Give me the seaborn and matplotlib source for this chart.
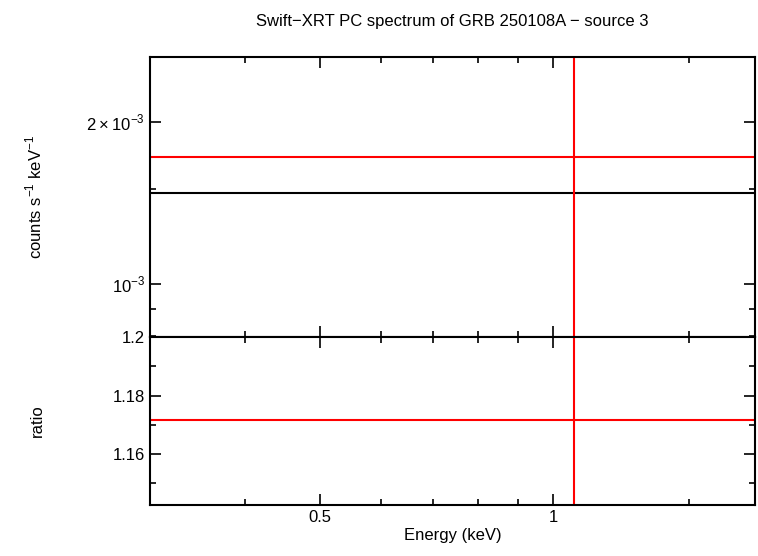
import matplotlib
matplotlib.use("Agg")
import matplotlib.pyplot as plt
import seaborn as sns
import pandas as pd
from matplotlib.ticker import FixedLocator, NullFormatter, FixedFormatter

plt.rcParams["font.family"] = "Liberation Sans"
plt.rcParams["mathtext.fontset"] = "custom"
plt.rcParams["mathtext.rm"] = "Liberation Sans"

title = "Swift\u2212XRT PC spectrum of GRB 250108A \u2212 source 3"
x_span = [0.3015, 1.824]
model_level = [1.475e-3, 1.475e-3]
data_level = [1.72e-3, 1.72e-3]
ratio_level = [1.1715, 1.1715]
vline_energy = 1.064

fig = plt.figure(figsize=(7.58, 5.56), dpi=100)
ax1 = fig.add_axes([0.1979, 0.3939, 0.798, 0.5036])
ax2 = fig.add_axes([0.1979, 0.0917, 0.798, 0.3022], sharex=ax1)

sns.lineplot(x=x_span, y=model_level, ax=ax1, color="black", lw=1.5)
sns.lineplot(x=x_span, y=data_level, ax=ax1, color="red", lw=1.5)
ax1.axvline(vline_energy, color="red", lw=1.5)
sns.lineplot(x=x_span, y=ratio_level, ax=ax2, color="red", lw=1.5)
ax2.axvline(vline_energy, color="red", lw=1.5)

for ax in (ax1, ax2):
    ax.set_xscale("log")
    ax.set_xlim(*x_span)
    ax.tick_params(which="both", direction="in", top=True, right=True, labelsize=12)
    ax.tick_params(which="major", length=8, width=1.2)
    ax.tick_params(which="minor", length=4, width=1.2)
    for s in ax.spines.values():
        s.set_linewidth(1.5)

ax1.set_yscale("log")
ax1.set_ylim(7.97e-4, 2.64e-3)
ax1.yaxis.set_major_locator(FixedLocator([1e-3, 2e-3]))
ax1.yaxis.set_major_formatter(FixedFormatter([r"$10^{-3}$", r"$2\times10^{-3}$"]))
ax1.yaxis.set_minor_locator(FixedLocator([8e-4, 9e-4, 1.5e-3]))
ax1.yaxis.set_minor_formatter(NullFormatter())
ax1.set_ylabel(r"counts s$^{-1}$ keV$^{-1}$", fontsize=12)
ax1.yaxis.set_label_coords(-0.174, 0.5)
ax1.set_title(title, fontsize=12, pad=22)
plt.setp(ax1.get_xticklabels(), visible=False)

ax2.set_ylim(1.1426, 1.2)
ax2.set_yticks([1.16, 1.18, 1.2])
ax2.set_yticklabels(["1.16", "1.18", "1.2"])
ax2.yaxis.set_minor_locator(FixedLocator([1.15, 1.17, 1.19]))
ax2.set_ylabel("ratio", fontsize=12)
ax2.yaxis.set_label_coords(-0.174, 0.5)
ax2.xaxis.set_major_locator(FixedLocator([0.5, 1.0]))
ax2.xaxis.set_major_formatter(FixedFormatter(["0.5", "1"]))
ax2.xaxis.set_minor_locator(FixedLocator([0.4, 0.6, 0.7, 0.8, 0.9, 1.5]))
ax2.xaxis.set_minor_formatter(NullFormatter())
ax2.set_xlabel("Energy (keV)", fontsize=12, labelpad=2)

fig.savefig("out.png", dpi=100)
